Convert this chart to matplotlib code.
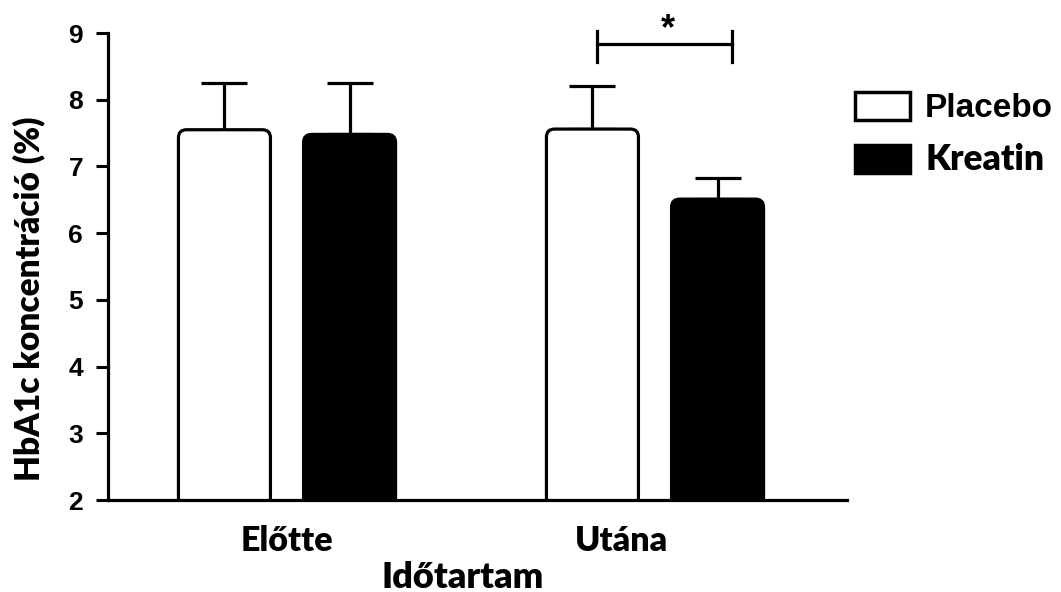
import numpy as np
import matplotlib
matplotlib.use("Agg")
import matplotlib.pyplot as plt
from matplotlib.patches import FancyBboxPatch, Patch

groups = ["Előtte", "Utána"]
series = ["Placebo", "Kreatin"]
placebo_mean = [7.55, 7.56]
placebo_err = [0.70, 0.65]
kreatin_mean = [7.48, 6.51]
kreatin_err = [0.77, 0.31]

fig = plt.figure(figsize=(10.61, 5.92), dpi=100)
ax = fig.add_axes([108 / 1061, 92 / 592, (847 - 108) / 1061, 467 / 592])

x = np.arange(len(groups))
w = 0.25
off = 0.17
lw = 2.3
ekw = dict(elinewidth=lw, capsize=16.5, capthick=lw, ecolor="black", zorder=1)
b1 = ax.bar(x - off, placebo_mean, w, yerr=[np.zeros(2), placebo_err],
            color="white", edgecolor="black", linewidth=lw, error_kw=ekw, zorder=2)
b2 = ax.bar(x + off, kreatin_mean, w, yerr=[np.zeros(2), kreatin_err],
            color="black", edgecolor="black", linewidth=lw, error_kw=ekw, zorder=2)

ax.set_ylim(2, 9)
ax.set_xlim((108 - 287) / 368, (847 - 287) / 368)

# rounded bar corners
aspect = 368 / 66.7
for bars in (b1, b2):
    for r in bars:
        r.set_visible(False)
        p = FancyBboxPatch((r.get_x(), r.get_y()), r.get_width(), r.get_height(),
                           boxstyle="round,pad=0,rounding_size=0.022",
                           mutation_aspect=aspect, facecolor=r.get_facecolor(),
                           edgecolor="black", linewidth=lw, zorder=2)
        ax.add_patch(p)

ax.set_yticks(range(2, 10))
# group labels (the second one sits a little left of its bars in the original)
ax.set_xticks([0, 0.908])
ax.set_xticklabels(groups, fontfamily="Lato", fontweight="heavy", fontsize=24.5)
for t in ax.get_yticklabels():
    t.set_fontfamily("Liberation Sans")
    t.set_fontweight("bold")
    t.set_fontsize(19)
ax.tick_params(axis="y", direction="out", length=9, width=2.2, pad=9)
ax.tick_params(axis="x", length=0, pad=18)
for s in ["top", "right"]:
    ax.spines[s].set_visible(False)
for s in ["left", "bottom"]:
    ax.spines[s].set_linewidth(2.3)
    ax.spines[s].set_zorder(3)

# significance bracket
bx0, bx1, by = 0.842, 1.209, 8.83
ax.plot([bx0, bx1], [by, by], color="black", lw=2.3, clip_on=False)
ax.plot([bx0, bx0], [8.56, 9.03], color="black", lw=2.3, clip_on=False)
ax.plot([bx1, bx1], [8.56, 9.03], color="black", lw=2.3, clip_on=False)
ax.text(1.035, 8.9, "*", ha="center", va="baseline", fontsize=26,
        fontweight="bold", fontfamily="Liberation Sans", clip_on=False)

fig.text(463 / 1061, 1 - 588 / 592, "Időtartam", ha="center", va="baseline",
         fontfamily="Lato", fontweight="heavy", fontsize=26)
fig.text(29 / 1061, 1 - 299 / 592, "HbA1c koncentráció (%)", ha="center", va="center",
         rotation=90, fontfamily="Lato", fontweight="heavy", fontsize=24)

handles = [Patch(facecolor="white", edgecolor="black", linewidth=2.5, label=series[0]),
           Patch(facecolor="black", edgecolor="black", linewidth=2.5, label=series[1])]
leg = ax.legend(handles=handles, loc="upper left", bbox_to_anchor=(855 / 1061, 1 - 92 / 592),
                bbox_transform=fig.transFigure, frameon=False,
                prop=dict(family="Liberation Sans", weight="bold", size=24),
                handlelength=1.65, handleheight=0.9, labelspacing=0.57, handletextpad=0.45,
                borderaxespad=0, borderpad=0)
leg.get_texts()[1].set_fontfamily("Lato")
leg.get_texts()[1].set_fontweight("heavy")
leg.get_texts()[1].set_fontsize(25.5)

fig.savefig("out.png", dpi=100)
